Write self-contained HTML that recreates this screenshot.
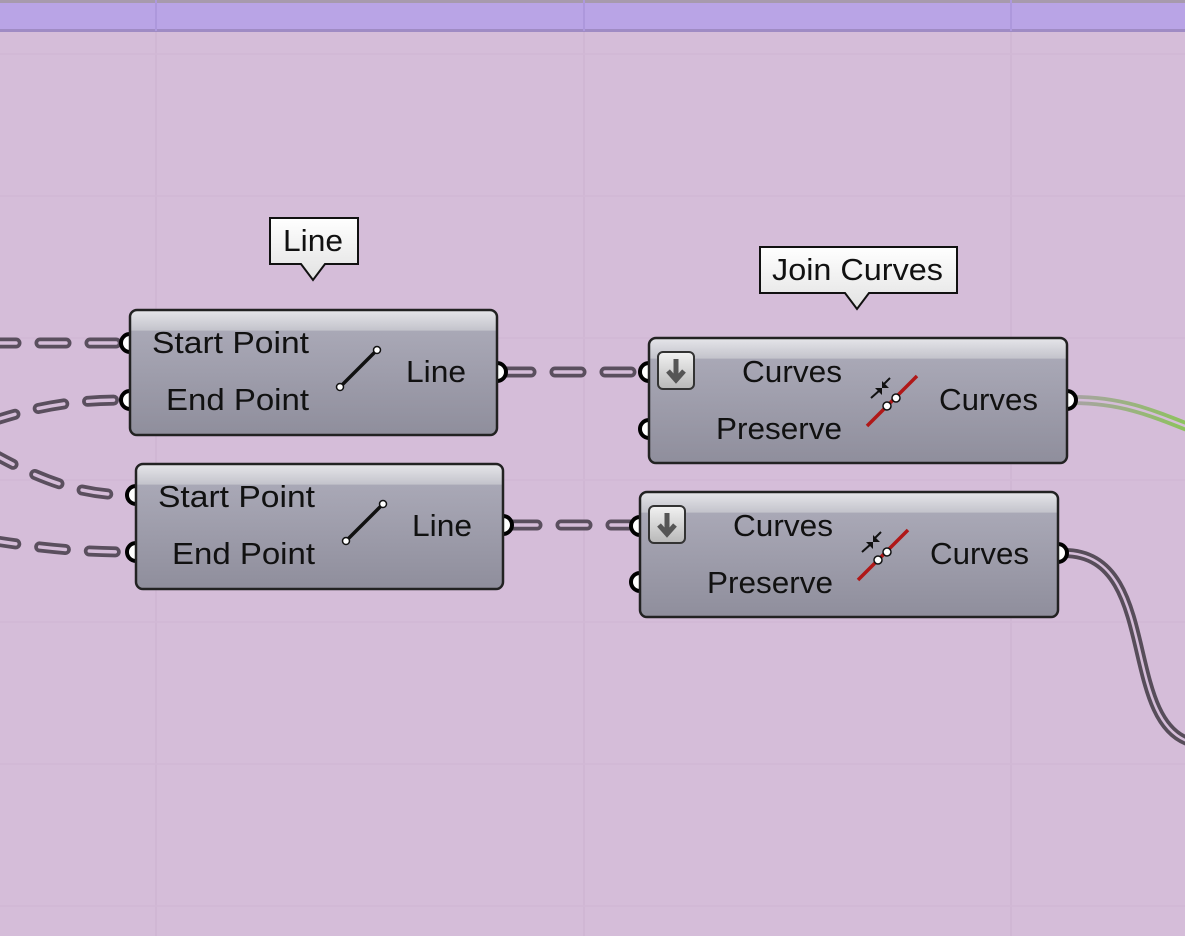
<!DOCTYPE html>
<html><head><meta charset="utf-8"><style>
html,body{margin:0;padding:0;background:#d5bdd9;}
svg{display:block}
text{font-family:"Liberation Sans","DejaVu Sans",sans-serif;font-size:31px;fill:#111;}
</style></head><body>
<svg width="1185" height="936" viewBox="0 0 1185 936" xmlns="http://www.w3.org/2000/svg">
<defs>
<linearGradient id="nb" x1="0" y1="0" x2="0" y2="1">
<stop offset="0" stop-color="#e6e6ea"/><stop offset="0.16" stop-color="#c4c4cc"/>
<stop offset="0.17" stop-color="#a9a8b6"/><stop offset="1" stop-color="#8f8e9c"/>
</linearGradient>
<linearGradient id="tt" x1="0" y1="0" x2="0" y2="1">
<stop offset="0" stop-color="#ffffff"/><stop offset="1" stop-color="#e2e2e2"/>
</linearGradient>
<linearGradient id="tg" x1="0" y1="0" x2="0" y2="1">
<stop offset="0" stop-color="#f2f2f2"/><stop offset="1" stop-color="#b8b8b8"/>
</linearGradient>
<linearGradient id="gw" x1="0" y1="0" x2="1" y2="0">
<stop offset="0" stop-color="#a8a2a4"/><stop offset="1" stop-color="#8cc45a"/>
</linearGradient>
</defs>
<!-- grid -->
<g stroke="#cfb5d3" stroke-width="1.5">
<line x1="156" y1="0" x2="156" y2="936"/><line x1="584" y1="0" x2="584" y2="936"/><line x1="1011" y1="0" x2="1011" y2="936"/>
</g>
<g stroke="#d1b8d5" stroke-width="1.5">
<line x1="0" y1="54" x2="1185" y2="54"/><line x1="0" y1="196" x2="1185" y2="196"/><line x1="0" y1="338" x2="1185" y2="338"/>
<line x1="0" y1="480" x2="1185" y2="480"/><line x1="0" y1="622" x2="1185" y2="622"/><line x1="0" y1="764" x2="1185" y2="764"/><line x1="0" y1="906" x2="1185" y2="906"/>
</g>
<!-- top bar -->
<rect x="0" y="0" width="1185" height="31" fill="#b9a4e6"/>
<rect x="0" y="0" width="1185" height="3" fill="#a79aad"/>
<rect x="0" y="29" width="1185" height="3" fill="#9f8bc4"/>
<g stroke="#ad98dc" stroke-width="2"><line x1="156" y1="0" x2="156" y2="31"/><line x1="584" y1="0" x2="584" y2="31"/><line x1="1011" y1="0" x2="1011" y2="31"/></g>

<!-- dashed wires -->
<g fill="none" stroke-linecap="round">
<g stroke="#5a4f5e" stroke-width="11" stroke-dasharray="26 24">
<path d="M-10 343 L123 343"/>
<path d="M-10 422 C40 405,80 400,123 400"/>
<path d="M-10 452 C40 480,80 495,129 495"/>
<path d="M-10 540 C40 548,80 552,129 552"/>
<path d="M505 372 L642 372"/>
<path d="M511 525 L633 525"/>
</g>
<g stroke="#d5bdd9" stroke-width="3.5" stroke-dasharray="26 24">
<path d="M-10 343 L123 343"/>
<path d="M-10 422 C40 405,80 400,123 400"/>
<path d="M-10 452 C40 480,80 495,129 495"/>
<path d="M-10 540 C40 548,80 552,129 552"/>
<path d="M505 372 L642 372"/>
<path d="M511 525 L633 525"/>
</g>
<path d="M1073 400 C1120 400,1150 412,1190 428" stroke="url(#gw)" stroke-width="10"/>
<path d="M1073 400 C1120 400,1150 412,1190 428" stroke="#d5bdd9" stroke-width="2.5"/>
<path d="M1064 553 C1160 553,1120 720,1190 742" stroke="#574d5a" stroke-width="10"/>
<path d="M1064 553 C1160 553,1120 720,1190 742" stroke="#d5bdd9" stroke-width="2.5"/>
</g>

<!-- ports -->
<g fill="#fff" stroke="#000" stroke-width="4">
<circle cx="130" cy="343" r="9"/><circle cx="130" cy="400" r="9"/>
<circle cx="497" cy="372" r="9"/>
<circle cx="136" cy="495" r="9"/><circle cx="136" cy="552" r="9"/>
<circle cx="503" cy="525" r="9"/>
<circle cx="649" cy="372" r="9"/><circle cx="649" cy="429" r="9"/>
<circle cx="1067" cy="400" r="9"/>
<circle cx="640" cy="526" r="9"/><circle cx="640" cy="582" r="9"/>
<circle cx="1058" cy="553" r="9"/>
</g>

<!-- Line nodes -->
<g transform="translate(130,310)">
<rect x="0" y="0" width="367" height="125" rx="7" fill="url(#nb)" stroke="#222" stroke-width="2.5"/>
<text x="22" y="43" textLength="157" lengthAdjust="spacingAndGlyphs">Start Point</text>
<text x="36" y="100" textLength="143" lengthAdjust="spacingAndGlyphs">End Point</text>
<line x1="210" y1="77" x2="247" y2="40" stroke="#111" stroke-width="3.5"/>
<circle cx="210" cy="77" r="3.5" fill="#fff" stroke="#111" stroke-width="1.5"/>
<circle cx="247" cy="40" r="3.5" fill="#fff" stroke="#111" stroke-width="1.5"/>
<text x="276" y="72" textLength="60" lengthAdjust="spacingAndGlyphs">Line</text>
</g>
<g transform="translate(136,464)">
<rect x="0" y="0" width="367" height="125" rx="7" fill="url(#nb)" stroke="#222" stroke-width="2.5"/>
<text x="22" y="43" textLength="157" lengthAdjust="spacingAndGlyphs">Start Point</text>
<text x="36" y="100" textLength="143" lengthAdjust="spacingAndGlyphs">End Point</text>
<line x1="210" y1="77" x2="247" y2="40" stroke="#111" stroke-width="3.5"/>
<circle cx="210" cy="77" r="3.5" fill="#fff" stroke="#111" stroke-width="1.5"/>
<circle cx="247" cy="40" r="3.5" fill="#fff" stroke="#111" stroke-width="1.5"/>
<text x="276" y="72" textLength="60" lengthAdjust="spacingAndGlyphs">Line</text>
</g>

<!-- Join nodes -->
<g transform="translate(649,338)">
<rect x="0" y="0" width="418" height="125" rx="7" fill="url(#nb)" stroke="#222" stroke-width="2.5"/>
<rect x="9" y="14" width="36" height="37" rx="5" fill="url(#tg)" stroke="#333" stroke-width="2"/>
<path d="M27 21 L27 41 M19 33 L27 42 L35 33" stroke="#555" stroke-width="5" fill="none"/>
<text x="93" y="44" textLength="100" lengthAdjust="spacingAndGlyphs">Curves</text>
<text x="67" y="101" textLength="126" lengthAdjust="spacingAndGlyphs">Preserve</text>
<line x1="218" y1="88" x2="268" y2="38" stroke="#b01818" stroke-width="3.5"/>
<path d="M222 60 L231 52 M241 40 L234 47" stroke="#111" stroke-width="2"/>
<path d="M226 50 L233 50 L233 57Z M240 50 L233 50 L233 43Z" fill="#111"/>
<circle cx="238" cy="68" r="4" fill="#fff" stroke="#111" stroke-width="1.5"/>
<circle cx="247" cy="60" r="4" fill="#fff" stroke="#111" stroke-width="1.5"/>
<text x="290" y="72" textLength="99" lengthAdjust="spacingAndGlyphs">Curves</text>
</g>
<g transform="translate(640,492)">
<rect x="0" y="0" width="418" height="125" rx="7" fill="url(#nb)" stroke="#222" stroke-width="2.5"/>
<rect x="9" y="14" width="36" height="37" rx="5" fill="url(#tg)" stroke="#333" stroke-width="2"/>
<path d="M27 21 L27 41 M19 33 L27 42 L35 33" stroke="#555" stroke-width="5" fill="none"/>
<text x="93" y="44" textLength="100" lengthAdjust="spacingAndGlyphs">Curves</text>
<text x="67" y="101" textLength="126" lengthAdjust="spacingAndGlyphs">Preserve</text>
<line x1="218" y1="88" x2="268" y2="38" stroke="#b01818" stroke-width="3.5"/>
<path d="M222 60 L231 52 M241 40 L234 47" stroke="#111" stroke-width="2"/>
<path d="M226 50 L233 50 L233 57Z M240 50 L233 50 L233 43Z" fill="#111"/>
<circle cx="238" cy="68" r="4" fill="#fff" stroke="#111" stroke-width="1.5"/>
<circle cx="247" cy="60" r="4" fill="#fff" stroke="#111" stroke-width="1.5"/>
<text x="290" y="72" textLength="99" lengthAdjust="spacingAndGlyphs">Curves</text>
</g>

<!-- tooltips -->
<path d="M270 218 H358 V264 H325 L313 280 L301 264 H270 Z" fill="url(#tt)" stroke="#111" stroke-width="2"/>
<text x="283" y="251" textLength="60" lengthAdjust="spacingAndGlyphs">Line</text>
<path d="M760 247 H957 V293 H869 L857 309 L845 293 H760 Z" fill="url(#tt)" stroke="#111" stroke-width="2"/>
<text x="772" y="280" textLength="171" lengthAdjust="spacingAndGlyphs">Join Curves</text>
</svg>
</body></html>
